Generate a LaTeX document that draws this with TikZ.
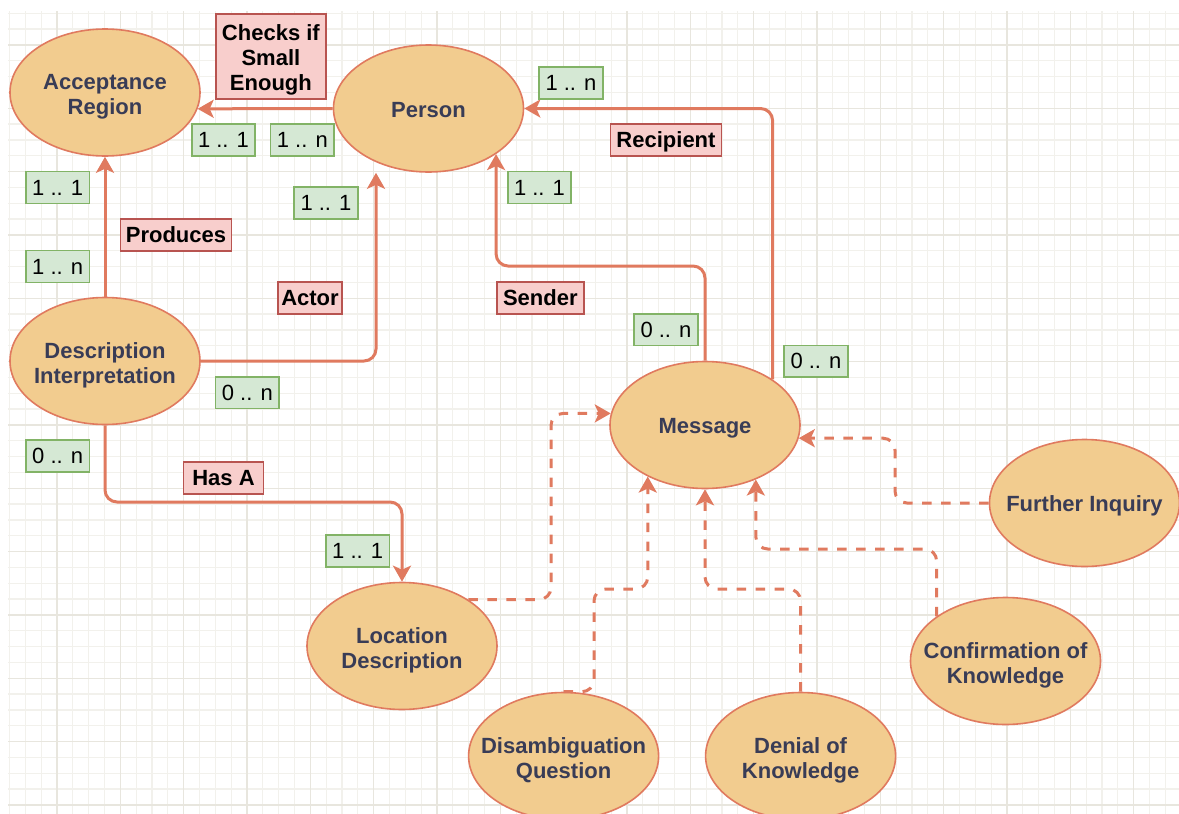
\documentclass[tikz,border=0pt]{standalone}
\usepackage{fontspec}
\setmainfont{Liberation Sans}
\usetikzlibrary{shapes.geometric,arrows.meta}
\definecolor{entfill}{HTML}{F2CC8F}
\definecolor{entline}{HTML}{E07A5F}
\definecolor{enttext}{HTML}{393C56}
\definecolor{relfill}{HTML}{F8CECC}
\definecolor{relline}{HTML}{B85450}
\definecolor{cardfill}{HTML}{D5E8D4}
\definecolor{cardline}{HTML}{82B366}
\definecolor{gridminor}{HTML}{F2F1EC}
\definecolor{gridmajor}{HTML}{E8E6DE}

% centred caption lines, with extra room above so the text sits a bit lower
\newcommand\entlabel[2][8pt]{%
  \raisebox{0pt}[\dimexpr\height+#1\relax][\depth]{%
    \begin{tabular}{@{}c@{}}#2\end{tabular}}}

\tikzset{
  entity/.style={ellipse, draw=entline, fill=entfill, line width=1.6pt,
    minimum width=190pt, minimum height=127pt, inner sep=-25pt,
    text=enttext, font=\fontsize{22}{25}\selectfont\bfseries},
  rel/.style={rectangle, draw=relline, fill=relfill, line width=1.6pt,
    minimum height=31.7pt, inner sep=0pt,
    font=\fontsize{22}{25}\selectfont\bfseries},
  card/.style={rectangle, draw=cardline, fill=cardfill, line width=1.6pt,
    minimum width=63.5pt, minimum height=31.7pt, inner sep=0pt,
    font=\fontsize{22}{25}\selectfont},
  link/.style={draw=entline, line width=3pt, rounded corners=12pt,
    -{Stealth[length=16pt,width=18pt,inset=4pt]}},
  hint/.style={link, dash pattern=on 9.5pt off 9.5pt},
}

\begin{document}
\begin{tikzpicture}[x=1pt,y=-1pt]
\useasboundingbox (0,0) rectangle (1179,814);
\fill[white] (0,0) rectangle (1179,814);

% paper grid
\begin{scope}
  \clip (8,11) rectangle (1179,814);
  \foreach \k in {0,...,74}
    \draw[gridminor, line width=1.3pt] ({9.5+15.833*\k},11) -- ++(0,803);
  \foreach \k in {0,...,51}
    \draw[gridminor, line width=1.3pt] (8,{13.3+15.833*\k}) -- ++(1171,0);
  \foreach \k in {0,...,17}
    \draw[gridmajor, line width=1.5pt] ({57+63.333*\k},11) -- ++(0,803);
  \foreach \k in {0,...,12}
    \draw[gridmajor, line width=1.5pt] (8,{45+63.333*\k}) -- ++(1171,0);
\end{scope}

% entities
\node[entity] (AR) at (105,92.5)   {\entlabel[9pt]{Acceptance\\Region}};
\node[entity] (P)  at (428.5,108.5) {\entlabel[7pt]{Person}};
\node[entity] (DI) at (105,361)    {\entlabel[9pt]{Description\\Interpretation}};
\node[entity] (M)  at (705,425)    {\entlabel[7pt]{Message}};
\node[entity] (FI) at (1084.5,503) {\entlabel[7pt]{Further Inquiry}};
\node[entity] (CK) at (1005.5,661) {\entlabel[9pt]{Confirmation of\\Knowledge}};
\node[entity] (LD) at (402,646)    {\entlabel[9pt]{Location\\Description}};
\node[entity] (DQ) at (563.6,756)  {\entlabel[9pt]{Disambiguation\\Question}};
\node[entity] (DK) at (800.6,756)  {\entlabel[9pt]{Denial of\\Knowledge}};

% bend points
\coordinate (sRow)  at (600,266);
\coordinate (hRow)  at (250,502);
\coordinate (ldCol) at (551,500);
\coordinate (dqBend) at (594,589);
\coordinate (dkRow) at (750,589);
\coordinate (ckRow) at (850,549);
\coordinate (fiCol) at (895,470);

% relationships
\draw[link] (P.west) -- (AR.350);
\draw[link] (DI.north) -- (AR.south);
\draw[link] (DI.east) -| ([xshift=-52.5pt]P.south);
\draw[link] (M.north) |- (sRow) -| (P.326);
\draw[link] (M.34) |- (P.east);
\draw[link] (DI.south) |- (hRow) -| (LD.north);

% message kinds
\draw[hint] (LD.35) -| (ldCol) |- (M.173);
\draw[hint] (DQ.north) -| (dqBend) -| (M.222);
\draw[hint] (DK.north) |- (dkRow) -| (M.south);
\draw[hint] (CK.147) |- (ckRow) -| (M.313);
\draw[hint] (FI.west) -| (fiCol) |- (M.352);

% relationship names
\node[rel, minimum width=110pt, minimum height=85pt] (checks) at (270.9,56.5) {\entlabel[8pt]{Checks if\\Small\\Enough}};
\node[rel, minimum width=111pt] (produces)  at (176,235)   {\entlabel[5pt]{Produces}};
\node[rel, minimum width=64pt]  (actor)     at (310,298)   {\entlabel[5pt]{Actor}};
\node[rel, minimum width=80pt]  (hasa)      at (223.5,478) {\entlabel[5pt]{Has A}};
\node[rel, minimum width=111pt] (recipient) at (666,140)   {\entlabel[5pt]{Recipient}};
\node[rel, minimum width=87pt]  (sender)    at (540.3,298) {\entlabel[5pt]{Sender}};

% cardinalities
\node[card] (c1)  at (223.5,140)   {\entlabel[5pt]{1 .. 1}};
\node[card] (c2)  at (302.3,140)   {\entlabel[5pt]{1 .. n}};
\node[card] (c3)  at (57.7,187.5)  {\entlabel[5pt]{1 .. 1}};
\node[card] (c4)  at (57.7,266.5)  {\entlabel[5pt]{1 .. n}};
\node[card] (c5)  at (326,203)     {\entlabel[5pt]{1 .. 1}};
\node[card] (c6)  at (571,83)      {\entlabel[5pt]{1 .. n}};
\node[card] (c7)  at (539.5,187.5) {\entlabel[5pt]{1 .. 1}};
\node[card] (c8)  at (247.3,392.7) {\entlabel[5pt]{0 .. n}};
\node[card] (c9)  at (57.7,456)    {\entlabel[5pt]{0 .. n}};
\node[card] (c10) at (357.7,551)   {\entlabel[5pt]{1 .. 1}};
\node[card] (c11) at (666,329.7)   {\entlabel[5pt]{0 .. n}};
\node[card] (c12) at (816,361.3)   {\entlabel[5pt]{0 .. n}};
\end{tikzpicture}
\end{document}
